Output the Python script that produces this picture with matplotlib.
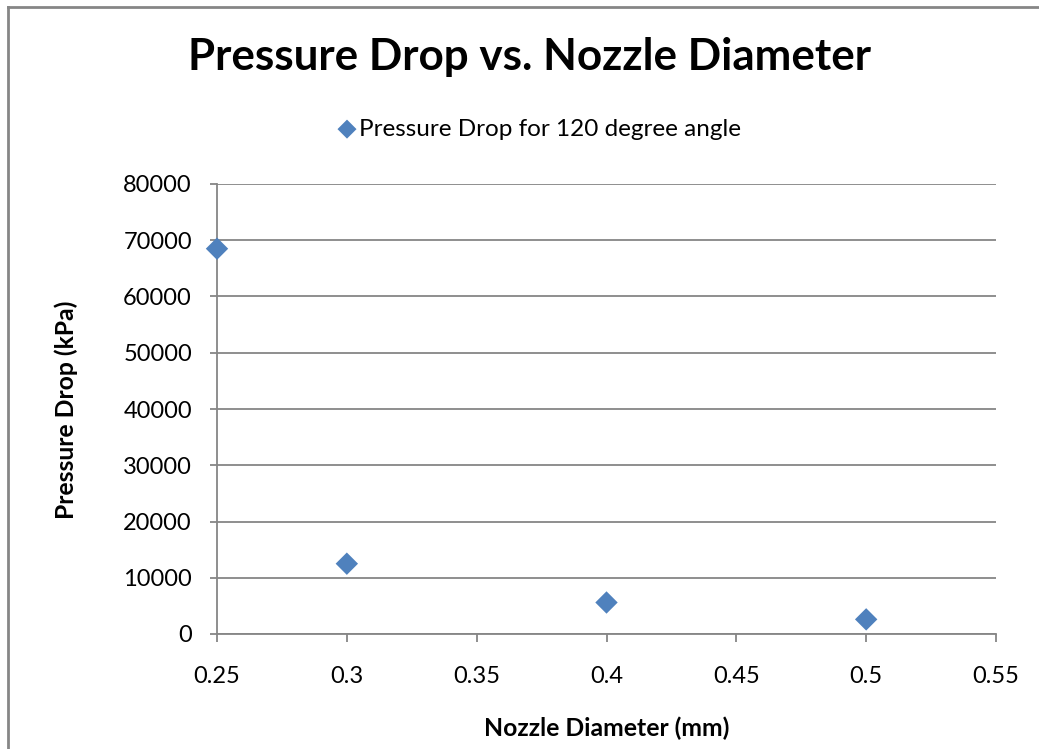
import matplotlib
matplotlib.use("Agg")
import matplotlib.pyplot as plt
from matplotlib.lines import Line2D

# Data
diameters = [0.25, 0.3, 0.4, 0.5]
pressure_drop = [68500, 12500, 5600, 2600]
series_label = "Pressure Drop for 120 degree angle"
title = "Pressure Drop vs. Nozzle Diameter"
xlabel = "Nozzle Diameter (mm)"
ylabel = "Pressure Drop (kPa)"
xticks = [0.25, 0.3, 0.35, 0.4, 0.45, 0.5, 0.55]
xticklabels = ["0.25", "0.3", "0.35", "0.4", "0.45", "0.5", "0.55"]
yticks = [0, 10000, 20000, 30000, 40000, 50000, 60000, 70000, 80000]

plt.rcParams['font.family'] = ['Lato', 'DejaVu Sans']

W, H = 1039, 749
fig = plt.figure(figsize=(W / 100, H / 100), dpi=100)
ax = fig.add_axes([217 / W, 1 - 634 / H, (996 - 217) / W, (634 - 184) / H])

blue = '#4f81bd'
gray = '#868686'

ax.scatter(diameters, pressure_drop, marker='D', s=130, color=blue,
           edgecolors='none', zorder=3, label=series_label, clip_on=False)

ax.set_xlim(0.25, 0.55)
ax.set_ylim(0, 80000)
ax.set_xticks(xticks)
ax.set_xticklabels(xticklabels)
ax.set_yticks(yticks)
ax.set_yticklabels([str(v) for v in yticks])

ax.yaxis.grid(True, color=gray, linewidth=1.3)
ax.set_axisbelow(True)
for s in ['top', 'right']:
    ax.spines[s].set_visible(False)
for s in ['left', 'bottom']:
    ax.spines[s].set_color(gray)
    ax.spines[s].set_linewidth(1.3)

ax.tick_params(axis='y', length=5, width=1.3, color=gray, pad=13, labelsize=17, labelcolor='black')
ax.tick_params(axis='x', length=6, width=1.3, color=gray, pad=17, labelsize=17, labelcolor='black')

fig.text(529 / W, 1 - 57 / H, title, ha='center', va='center',
         fontsize=31.7, fontweight='bold')
fig.text(607 / W, 1 - 728 / H, xlabel, ha='center', va='center',
         fontsize=17.8, fontweight='bold')
fig.text(66 / W, 1 - 410 / H, ylabel, ha='center', va='center',
         fontsize=17.8, fontweight='bold', rotation=90)

leg = ax.legend(loc='center', bbox_to_anchor=(538 / W, 1 - 129 / H),
                bbox_transform=fig.transFigure, frameon=False,
                fontsize=17.5, handletextpad=0.0, handlelength=1.0,
                borderpad=0, borderaxespad=0, markerscale=0.85)

# outer chart border (left and top visible)
fig.add_artist(Line2D([8 / W, 8 / W], [0, 1 - 7 / H], transform=fig.transFigure,
                      color=gray, linewidth=2))
fig.add_artist(Line2D([8 / W, 1], [1 - 7 / H, 1 - 7 / H], transform=fig.transFigure,
                      color=gray, linewidth=2))

fig.savefig("out.png", dpi=100)
